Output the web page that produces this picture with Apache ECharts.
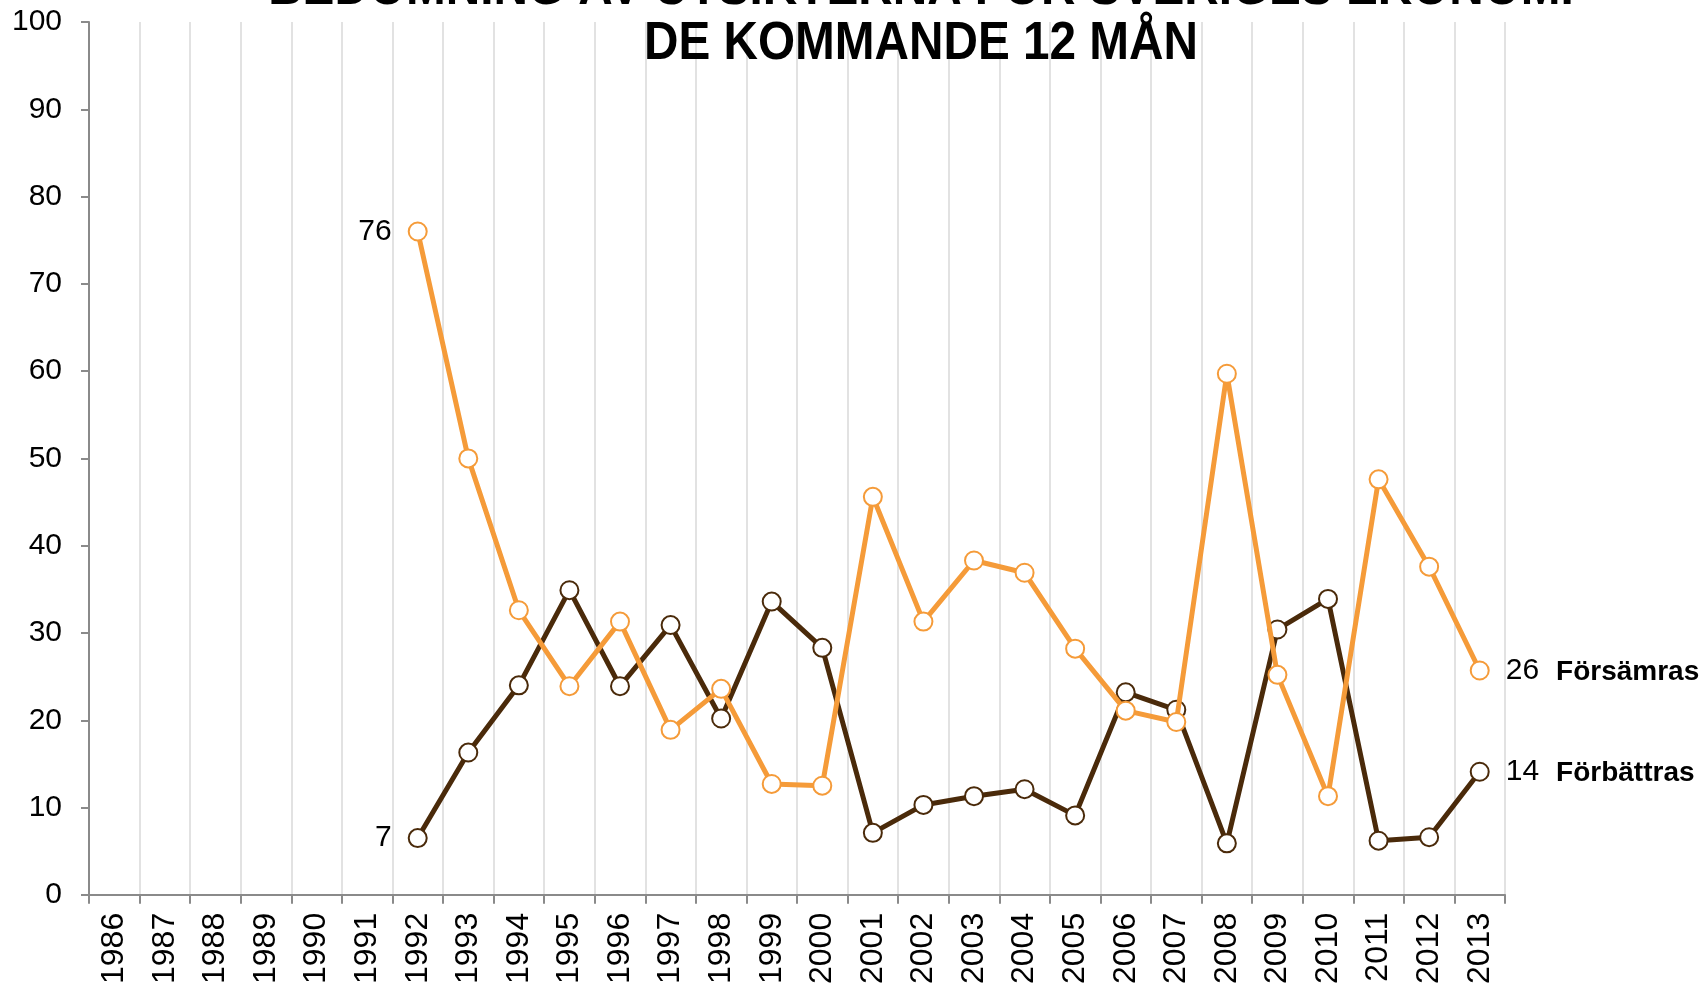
<!DOCTYPE html>
<html>
<head>
<meta charset="utf-8">
<script src="https://cdn.jsdelivr.net/npm/echarts@6/dist/echarts.min.js"></script>
<style>
html,body{margin:0;padding:0;background:#fff;}
#chart{width:1708px;height:987px;}
</style>
</head>
<body>
<div id="chart"></div>
<script>
const years = ['1986','1987','1988','1989','1990','1991','1992','1993','1994','1995','1996','1997','1998','1999','2000','2001','2002','2003','2004','2005','2006','2007','2008','2009','2010','2011','2012','2013'];
const forsamras = [null,null,null,null,null,null,76,50,32.6,23.9,31.3,18.9,23.6,12.7,12.5,45.6,31.3,38.3,36.9,28.2,21.1,19.8,59.7,25.2,11.3,47.6,37.6,25.7];
const forbattras = [null,null,null,null,null,null,6.5,16.3,24.0,34.9,23.9,30.9,20.2,33.6,28.3,7.1,10.3,11.3,12.1,9.1,23.2,21.2,5.9,30.4,33.9,6.2,6.6,14.1];
const seriesNames = ['Försämras','Förbättras'];
const titleLines = ['BEDÖMNING AV UTSIKTERNA FÖR SVERIGES EKONOMI','DE KOMMANDE 12 MÅN'];
const yTicks = {min:0, max:100, interval:10};

const FONT = '"Liberation Sans", Arial, sans-serif';
const ORANGE = '#f59b39';
const BROWN = '#4a2a0a';

function buildData(values, name) {
  let first = values.findIndex(v => v !== null);
  let last = values.length - 1;
  while (values[last] === null) last--;
  return values.map((v, i) => {
    if (i === first) {
      return {value: v, label: {show: true, position: 'left', distance: 16,
        formatter: p => String(Math.round(p.value)), fontSize: 30, color: '#000', fontFamily: FONT}};
    }
    if (i === last) {
      return {value: v, label: {show: true, position: 'right', distance: 16,
        formatter: p => '{v|' + Math.round(p.value) + '}{n|' + name + '}',
        rich: {
          v: {fontSize: 30, color: '#000', fontFamily: FONT},
          n: {fontSize: 28, fontWeight: 'bold', color: '#000', fontFamily: FONT, padding: [4, 0, 0, 17]}
        }}};
    }
    return v;
  });
}

const chart = echarts.init(document.getElementById('chart'));
chart.setOption({
  animation: false,
  backgroundColor: '#fff',
  grid: {left: 89, right: 203, top: 22, bottom: 91, containLabel: false},
  graphic: [
    {type: 'text', x: 921, y: -10.5, scaleX: 0.9, z: 10,
     style: {text: titleLines[0], font: 'bold 53px ' + FONT, fill: '#000', textAlign: 'center', textVerticalAlign: 'middle'}},
    {type: 'text', x: 921, y: 44.5, scaleX: 0.9, z: 10,
     style: {text: titleLines[1], font: 'bold 53px ' + FONT, fill: '#000', textAlign: 'center', textVerticalAlign: 'middle'}}
  ],
  xAxis: {
    type: 'category',
    data: years,
    boundaryGap: true,
    axisLine: {show: true, lineStyle: {color: '#8a8a8a', width: 2}},
    axisTick: {show: true, length: 9, interval: 0, lineStyle: {color: '#8a8a8a', width: 2}},
    axisLabel: {rotate: 90, interval: 0, margin: 18, fontSize: 32, color: '#000', fontFamily: FONT},
    splitLine: {show: true, interval: 0, lineStyle: {color: '#d9d9d9', width: 1.5}}
  },
  yAxis: {
    type: 'value',
    min: yTicks.min, max: yTicks.max, interval: yTicks.interval,
    axisLine: {show: true, lineStyle: {color: '#8a8a8a', width: 2}},
    axisTick: {show: true, length: 8, lineStyle: {color: '#8a8a8a', width: 2}},
    axisLabel: {margin: 27, fontSize: 30, color: '#000', fontFamily: FONT},
    splitLine: {show: false}
  },
  series: [
    {
      name: seriesNames[1], type: 'line', data: buildData(forbattras, seriesNames[1]),
      symbol: 'circle', symbolSize: 18, connectNulls: false,
      lineStyle: {color: BROWN, width: 5},
      itemStyle: {color: '#fff', borderColor: BROWN, borderWidth: 2},
      z: 2
    },
    {
      name: seriesNames[0], type: 'line', data: buildData(forsamras, seriesNames[0]),
      symbol: 'circle', symbolSize: 18, connectNulls: false,
      lineStyle: {color: ORANGE, width: 5},
      itemStyle: {color: '#fff', borderColor: ORANGE, borderWidth: 2},
      z: 3
    }
  ]
});
</script>
</body>
</html>
